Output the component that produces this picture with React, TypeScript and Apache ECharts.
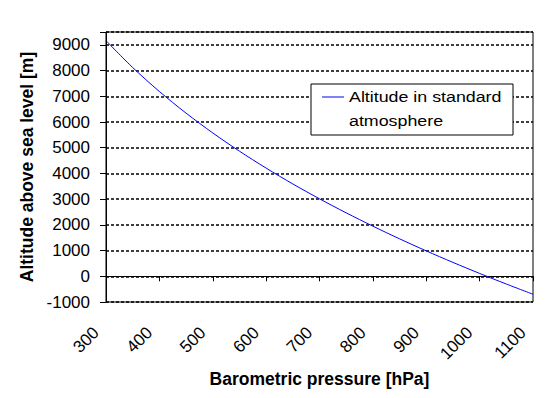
import React, { useEffect, useRef } from "react";
import * as echarts from "echarts";

const pressures = [300, 350, 400, 450, 500, 550, 600, 650, 700, 750, 800, 850, 900, 950, 1000, 1050, 1100];
const altitudes = [9164, 8118, 7187, 6345, 5575, 4866, 4207, 3591, 3013, 2467, 1949, 1457, 988, 540, 111, -301, -698];
const seriesName = "Altitude in standard atmosphere";
const legendLines = ["Altitude in standard", "atmosphere"];
const xTitle = "Barometric pressure [hPa]";
const yTitle = "Altitude above sea level [m]";

const FONT = "Arial, 'Liberation Sans', sans-serif";

export default function App() {
  const ref = useRef<HTMLDivElement>(null);
  useEffect(() => {
    if (!ref.current) return;
    const chart = echarts.init(ref.current, null, { renderer: "svg" });
    chart.setOption({
      animation: false,
      backgroundColor: "#fff",
      grid: {
        left: 106,
        right: 25,
        top: 32,
        bottom: 96,
        show: true,
        borderColor: "#000",
        borderWidth: 1,
        backgroundColor: "transparent",
      },
      xAxis: {
        type: "value",
        min: 300,
        max: 1100,
        interval: 100,
        name: xTitle,
        nameLocation: "middle",
        nameGap: 63,
        nameTextStyle: { fontFamily: FONT, fontSize: 17.5, fontWeight: "bold", color: "#000" },
        axisLine: { show: true, lineStyle: { color: "#000", width: 1 } },
        axisTick: { show: true, length: 5, lineStyle: { color: "#000" } },
        axisLabel: {
          rotate: 45,
          margin: 18,
          padding: [0, 14, 0, 0],
          fontFamily: FONT,
          fontSize: 17,
          color: "#000",
          formatter: (v: number) => String(v),
        },
        splitLine: { show: false },
      },
      yAxis: {
        type: "value",
        min: -1000,
        max: 9500,
        interval: 1000,
        name: yTitle,
        nameLocation: "middle",
        nameGap: 58,
        nameTextStyle: { fontFamily: FONT, fontSize: 17.5, fontWeight: "bold", color: "#000" },
        axisLine: { show: true, lineStyle: { color: "#000", width: 1 } },
        axisTick: { show: true, length: 6, lineStyle: { color: "#000" } },
        axisLabel: {
          margin: 16,
          fontFamily: FONT,
          fontSize: 17,
          color: "#000",
          formatter: (v: number) => (v > 9000 ? "" : String(v)),
        },
        splitLine: { show: true, lineStyle: { color: "#000", width: 1.5, type: [3, 2] } },
      },
      series: [
        {
          name: seriesName,
          type: "line",
          data: pressures.map((p, i) => [p, altitudes[i]]),
          smooth: 0.3,
          showSymbol: false,
          symbol: "none",
          lineStyle: { color: "#0000ff", width: 1 },
        },
      ],
      graphic: [
        {
          type: "rect",
          shape: { x: 311, y: 84, width: 202, height: 51 },
          style: { fill: "#fff", stroke: "#000", lineWidth: 1 },
          z: 100,
        },
        {
          type: "line",
          shape: { x1: 322, y1: 97, x2: 344, y2: 97 },
          style: { stroke: "#0000ff", lineWidth: 1 },
          z: 101,
        },
        {
          type: "text",
          x: 349,
          y: 97,
          scaleX: 1.15,
          style: { text: legendLines[0], font: `15.5px ${FONT}`, fill: "#000", verticalAlign: "middle" },
          z: 101,
        },
        {
          type: "text",
          x: 349,
          y: 121,
          scaleX: 1.15,
          style: { text: legendLines[1], font: `15.5px ${FONT}`, fill: "#000", verticalAlign: "middle" },
          z: 101,
        },
      ],
    });
    return () => chart.dispose();
  }, []);
  return <div ref={ref} style={{ position: "fixed", left: 0, top: 0, width: 558, height: 398 }} />;
}
